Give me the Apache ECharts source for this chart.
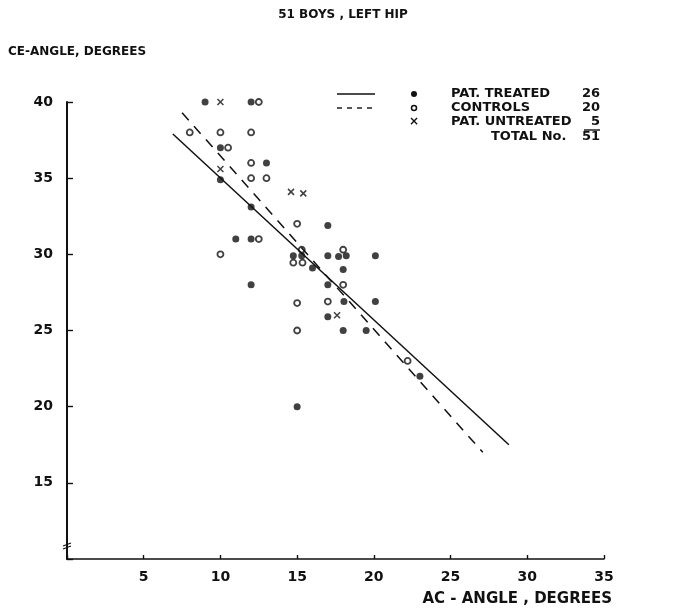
<!DOCTYPE html>
<html>
<head>
<meta charset="utf-8">
<script src="https://cdn.jsdelivr.net/npm/echarts@6/dist/echarts.min.js"></script>
<style>
  html, body { margin: 0; padding: 0; background: #fff; }
  #chart { width: 687px; height: 608px; }
</style>
</head>
<body>
<div id="chart"></div>
<script>
// AC-angle (x) vs CE-angle (y), left hip, 51 boys
const treatedPoints = [
  [9, 40], [12, 40], [10, 37], [13, 36], [10, 34.9], [12, 33.1],
  [11, 31], [12, 31], [12, 28],
  [17, 31.9], [14.75, 29.9], [15.3, 29.9], [17, 29.9], [17.7, 29.85],
  [18.2, 29.9], [20.1, 29.9], [16, 29.1], [18, 29], [17, 28],
  [18.05, 26.9], [20.1, 26.9], [17, 25.9], [18, 25], [19.5, 25],
  [23, 22], [15, 20]
];
const controlPoints = [
  [12.5, 40], [8, 38], [10, 38], [12, 38], [10.5, 37], [12, 36],
  [12, 35], [13, 35], [12.5, 31], [10, 30],
  [15, 32], [15.3, 30.3], [18, 30.3], [14.75, 29.45], [15.35, 29.45],
  [18, 28], [15, 26.8], [17, 26.9], [15, 25], [22.2, 23]
];
const untreatedPoints = [
  [10, 40], [10, 35.6], [14.6, 34.1], [15.4, 34.0], [17.6, 26]
];
// regression lines (end points)
const treatedFit = [[6.9, 37.9], [28.8, 17.5]];
const controlFit = [[7.5, 39.3], [27.1, 17.0]];

const xTicks = [5, 10, 15, 20, 25, 30, 35];
const yTicks = [15, 20, 25, 30, 35, 40];

const legendLabels = ['PAT. TREATED', 'CONTROLS', 'PAT. UNTREATED'];
const legendCounts = ['26', '20', '5'];
const totalLabel = 'TOTAL No.';
const totalCount = '51';

const FONT = '"DejaVu Sans", sans-serif';
const INK = '#111';

const chart = echarts.init(document.getElementById('chart'), null, { renderer: 'canvas' });

const crossPath = 'path://M0,0 L10,10 M10,0 L0,10';

// legend block drawn as graphics
const legendTop = 94, rowGap = 14, countRight = 600;
const legendFont = 'bold 13px ' + FONT;
const legendGraphics = [];
legendGraphics.push({
  type: 'line', shape: { x1: 337, y1: legendTop, x2: 375, y2: legendTop },
  style: { stroke: INK, lineWidth: 1.4 }
});
legendGraphics.push({
  type: 'line', shape: { x1: 337, y1: legendTop + rowGap, x2: 375, y2: legendTop + rowGap },
  style: { stroke: INK, lineWidth: 1.4, lineDash: [5, 5] }
});
legendGraphics.push({
  type: 'circle', shape: { cx: 414, cy: legendTop, r: 3 }, style: { fill: INK }
});
legendGraphics.push({
  type: 'circle', shape: { cx: 414, cy: legendTop + rowGap, r: 2.5 },
  style: { fill: '#fff', stroke: INK, lineWidth: 1.5 }
});
legendGraphics.push({
  type: 'text', x: 414, y: legendTop + 2 * rowGap,
  style: { text: '×', font: 'bold 12px ' + FONT, fill: INK, align: 'center', verticalAlign: 'middle' }
});
legendLabels.forEach((t, i) => {
  legendGraphics.push({
    type: 'text', x: 451, y: legendTop + i * rowGap,
    style: { text: t, font: legendFont, fill: INK, verticalAlign: 'middle' }
  });
  legendGraphics.push({
    type: 'text', x: countRight, y: legendTop + i * rowGap,
    style: { text: legendCounts[i], font: legendFont, fill: INK, align: 'right', verticalAlign: 'middle' }
  });
});
legendGraphics.push({
  type: 'line', shape: { x1: countRight - 16, y1: legendTop + 2 * rowGap + 8, x2: countRight, y2: legendTop + 2 * rowGap + 8 },
  style: { stroke: INK, lineWidth: 1.4 }
});
legendGraphics.push({
  type: 'text', x: 491, y: legendTop + 3 * rowGap + 1,
  style: { text: totalLabel, font: legendFont, fill: INK, verticalAlign: 'middle' }
});
legendGraphics.push({
  type: 'text', x: countRight, y: legendTop + 3 * rowGap + 1,
  style: { text: totalCount, font: legendFont, fill: INK, align: 'right', verticalAlign: 'middle' }
});

// axis break mark on the y axis
const breakMarks = [
  { type: 'line', shape: { x1: 63, y1: 546, x2: 71, y2: 543 }, style: { stroke: INK, lineWidth: 1.2 } },
  { type: 'line', shape: { x1: 63, y1: 549, x2: 71, y2: 546 }, style: { stroke: INK, lineWidth: 1.2 } }
];

const option = {
  backgroundColor: '#fff',
  animation: false,
  grid: { left: 67, right: 83, top: 102, bottom: 49, outerBoundsMode: 'none' },
  xAxis: {
    type: 'value', min: 0, max: 35, interval: 5,
    axisLine: { show: true, lineStyle: { color: INK, width: 1.6 } },
    axisTick: { show: true, inside: true, length: 4, lineStyle: { color: INK, width: 1.4 } },
    axisLabel: {
      margin: 11, color: INK, fontFamily: FONT, fontWeight: 'bold', fontSize: 14,
      formatter: v => (xTicks.includes(v) ? String(v) : '')
    },
    splitLine: { show: false }
  },
  yAxis: {
    type: 'value', min: 10, max: 40, interval: 5,
    axisLine: { show: true, lineStyle: { color: INK, width: 2 } },
    axisTick: { show: true, inside: true, length: 6, lineStyle: { color: INK, width: 1.4 } },
    axisLabel: {
      margin: 14, color: INK, fontFamily: FONT, fontWeight: 'bold', fontSize: 14,
      formatter: v => (yTicks.includes(v) ? String(v) : '')
    },
    splitLine: { show: false }
  },
  graphic: [
    {
      type: 'text', x: 343, y: 15,
      style: { text: '51 BOYS , LEFT HIP', font: 'bold 12px ' + FONT, fill: INK, align: 'center', verticalAlign: 'middle' }
    },
    {
      type: 'text', x: 8, y: 52,
      style: { text: 'CE-ANGLE, DEGREES', font: 'bold 12px ' + FONT, fill: INK, verticalAlign: 'middle' }
    },
    {
      type: 'text', x: 612, y: 599,
      style: { text: 'AC - ANGLE , DEGREES', font: 'bold 15px ' + FONT, fill: INK, align: 'right', verticalAlign: 'middle' }
    },
    ...breakMarks,
    ...legendGraphics
  ],
  series: [
    {
      name: 'fit treated', type: 'line', data: treatedFit, symbol: 'none', silent: true,
      lineStyle: { color: INK, width: 1.5 }
    },
    {
      name: 'fit controls', type: 'line', data: controlFit, symbol: 'none', silent: true,
      lineStyle: { color: INK, width: 1.5, type: [10, 8] }
    },
    {
      name: 'PAT. TREATED', type: 'scatter', data: treatedPoints,
      symbol: 'circle', symbolSize: 7, itemStyle: { color: INK }
    },
    {
      name: 'CONTROLS', type: 'scatter', data: controlPoints,
      symbol: 'circle', symbolSize: 6,
      itemStyle: { color: '#fff', borderColor: INK, borderWidth: 1.8 }
    },
    {
      name: 'PAT. UNTREATED', type: 'scatter', data: untreatedPoints,
      symbol: crossPath, symbolSize: 6,
      itemStyle: { color: 'none', borderColor: INK, borderWidth: 1.5 }
    }
  ]
};

chart.setOption(option);
</script>
</body>
</html>
